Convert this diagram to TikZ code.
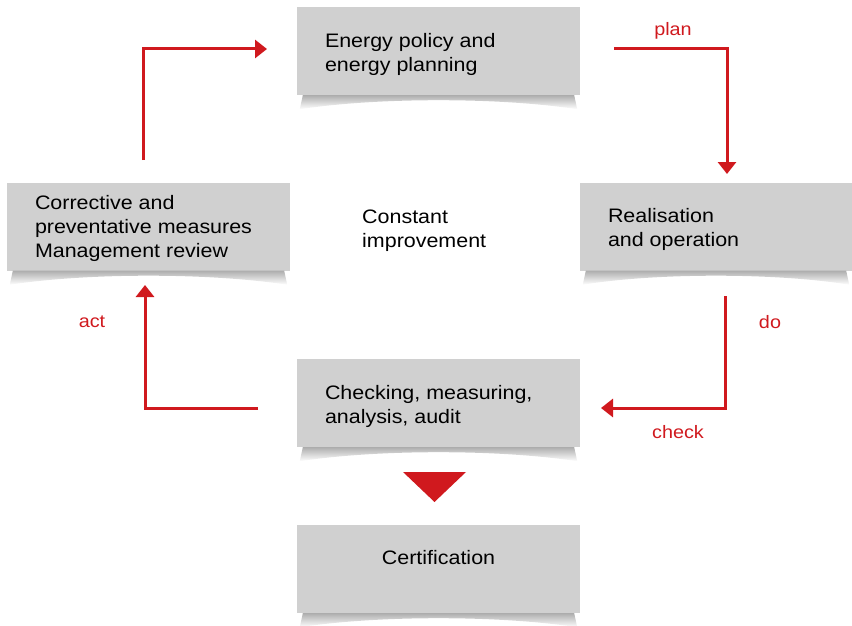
\documentclass[tikz,border=0pt]{standalone}
\usepackage{fontspec}
\setmainfont{Liberation Sans}
\newfontfamily\widesans[FakeStretch=1.1]{Liberation Sans}
\usetikzlibrary{arrows.meta,calc}
\definecolor{boxgray}{RGB}{208,208,208}
\definecolor{pdcared}{RGB}{208,25,30}
\begin{document}
\begin{tikzpicture}[x=1pt,y=-1pt,
  stepbox/.style={fill=boxgray,draw=none,minimum height=88pt,inner sep=0pt},
  steptext/.style={inner sep=0pt,align=left,font=\widesans\fontsize{19.5}{24}\selectfont},
  redarrow/.style={draw=pdcared,line width=3pt,-{Triangle[length=12pt,width=18pt]}},
  redlabel/.style={text=pdcared,font=\widesans\fontsize{18}{20}\selectfont,inner sep=0pt},
]
\useasboundingbox (0,0) rectangle (852,626);
\newcommand{\boxshadow}[1]{%
  \shade[top color=black!32,bottom color=white]
    ($(#1.south west)+(6,0)$) -- ($(#1.south east)+(-6,0)$) -- ($(#1.south east)+(-3,14)$)
    .. controls ($(#1.south)+(60,2)$) and ($(#1.south)+(-60,2)$) .. ($(#1.south west)+(3,14)$) -- cycle;}
\node[stepbox,minimum width=283pt] (plan) at (438.5,51) {};
\node[stepbox,minimum width=272pt] (real) at (716,226.5) {};
\node[stepbox,minimum width=283pt] (corr) at (148.5,226.5) {};
\node[stepbox,minimum width=283pt] (check) at (438.5,403) {};
\node[stepbox,minimum width=283pt] (cert) at (438.5,569) {};
\boxshadow{plan}\boxshadow{real}\boxshadow{corr}\boxshadow{check}\boxshadow{cert}
\node[steptext,anchor=west] (plantext) at ($(plan.west)+(28,3)$) {Energy policy and\\energy planning};
\node[steptext,anchor=west] (realtext) at ($(real.west)+(28,3)$) {Realisation\\and operation};
\node[steptext,anchor=west] (corrtext) at ($(corr.west)+(28,2)$) {Corrective and\\preventative measures\\Management review};
\node[steptext,anchor=west] (checktext) at ($(check.west)+(28,3)$) {Checking, measuring,\\analysis, audit};
\node[steptext] (certtext) at ($(cert.center)+(0,-11)$) {Certification};
\node[steptext,anchor=west] (center) at (362,231) {Constant\\improvement};
% connectors
\coordinate (a1) at (143,160); \coordinate (a2) at (267,49);
\coordinate (b1) at (614,49); \coordinate (b2) at (727,174);
\coordinate (c1) at (725,296); \coordinate (c2) at (601,408);
\coordinate (d1) at (258,408); \coordinate (d2) at (145,285);
\draw[redarrow] (a1) |- (a2);
\draw[redarrow] (b1) -| (b2);
\draw[redarrow] (c1) |- (c2);
\draw[redarrow] (d1) -| (d2);
\node[redlabel] (lplan) at (673,31) {plan};
\node[redlabel] (ldo) at (770,322) {do};
\node[redlabel] (lcheck) at (678,432) {check};
\node[redlabel] (lact) at (92,322) {act};
\coordinate (t1) at (403,472); \coordinate (t2) at (466,472); \coordinate (t3) at (434.5,502);
\fill[pdcared] (t1) -- (t2) -- (t3) -- cycle;
\end{tikzpicture}
\end{document}
